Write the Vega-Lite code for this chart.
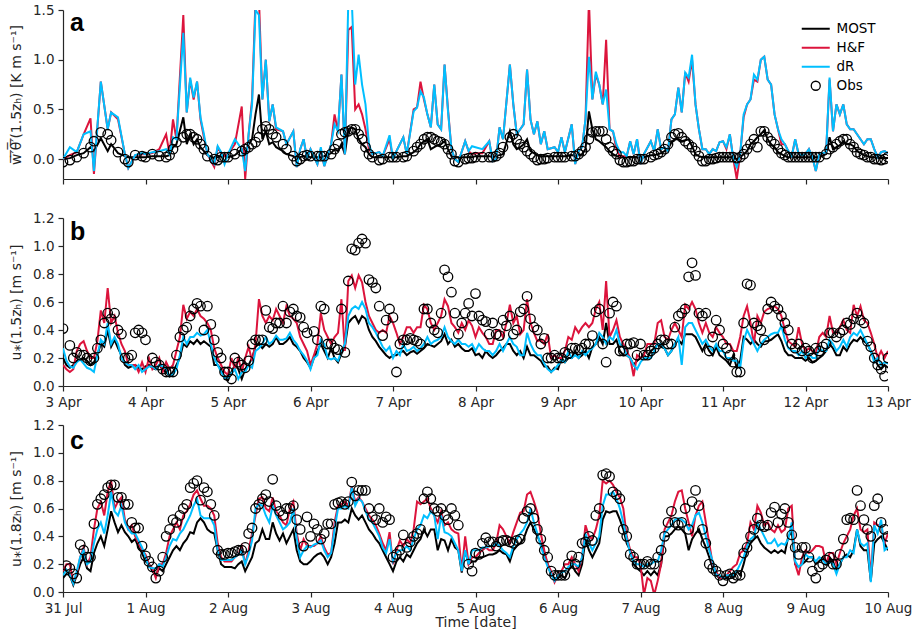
{
"$schema":"https://vega.github.io/schema/vega-lite/v6.json",
"padding":{"left":9,"top":3,"right":5,"bottom":1},
"config":{"font":"DejaVu Sans","view":{"stroke":null},
"axis":{"labelFont":"DejaVu Sans","labelFontSize":13.5,"labelColor":"#262626","titleFont":"DejaVu Sans","titleFontSize":14,"titleFontWeight":"normal","titleColor":"#262626","titlePadding":9,"domainColor":"#262626","domainWidth":1.2,"tickColor":"#262626","tickWidth":1.2,"tickSize":5,"grid":false,"labelPadding":4,"labelFlush":false,"labelOverlap":false}},
"datasets":{
"a":[
{"t":"2019-04-03T00:00","m":0,"h":0,"d":0,"o":-0.03},{"t":"2019-04-03T02:00","m":0.01,"h":0.04,"d":0.12,"o":-0.01},{"t":"2019-04-03T04:00","m":0.04,"h":0.07,"d":0.07,"o":0.02},{"t":"2019-04-03T06:00","m":0.06,"h":0.25,"d":0.25,"o":0.06},{"t":"2019-04-03T08:00","m":0.12,"h":0.41,"d":0.28,"o":0.12},{"t":"2019-04-03T09:00","m":0.08,"h":-0.15,"d":-0.12,"o":0.18},{"t":"2019-04-03T11:00","m":0.21,"h":0.78,"d":0.78,"o":0.27},{"t":"2019-04-03T13:00","m":0.08,"h":0.3,"d":0.3,"o":0.25},{"t":"2019-04-03T14:00","m":0.15,"h":0.47,"d":0.47,"o":0.19},{"t":"2019-04-03T16:00","m":0.06,"h":0.4,"d":0.42,"o":0.07},{"t":"2019-04-03T18:00","m":0.03,"h":0.05,"d":0.05,"o":0},{"t":"2019-04-03T19:00","m":0.02,"h":-0.09,"d":-0.09,"o":-0.03},{"t":"2019-04-03T21:00","m":0.02,"h":0.04,"d":0.04,"o":0.04},{"t":"2019-04-03T23:00","m":0.02,"h":0.05,"d":0.06,"o":0.03},
{"t":"2019-04-04T00:00","m":0.02,"h":0.05,"d":0.05,"o":0.02},{"t":"2019-04-04T02:00","m":0.03,"h":0.06,"d":0.07,"o":0.05},{"t":"2019-04-04T04:00","m":0.03,"h":0.1,"d":0.08,"o":0.03},{"t":"2019-04-04T06:00","m":0.03,"h":0.25,"d":0.1,"o":0.02},{"t":"2019-04-04T07:00","m":0.04,"h":0.05,"d":0.05,"o":0.04},{"t":"2019-04-04T08:00","m":0.12,"h":0.4,"d":0.22,"o":0.1},{"t":"2019-04-04T09:00","m":0.15,"h":0.2,"d":0.2,"o":0.17},{"t":"2019-04-04T11:00","m":0.42,"h":1.45,"d":1.27,"o":0.22},{"t":"2019-04-04T12:00","m":0.15,"h":0.47,"d":0.47,"o":0.25},{"t":"2019-04-04T13:00","m":0.25,"h":0.8,"d":0.82,"o":0.25},{"t":"2019-04-04T14:00","m":0.15,"h":0.6,"d":0.62,"o":0.22},{"t":"2019-04-04T15:00","m":0.2,"h":0.78,"d":0.78,"o":0.2},{"t":"2019-04-04T16:00","m":0.12,"h":0.4,"d":0.42,"o":0.15},{"t":"2019-04-04T17:00","m":0.08,"h":0.22,"d":0.25,"o":0.1},{"t":"2019-04-04T18:00","m":0.04,"h":0.05,"d":0.05,"o":0.03},{"t":"2019-04-04T20:00","m":0.01,"h":-0.08,"d":-0.05,"o":0},{"t":"2019-04-04T21:00","m":0.02,"h":0.12,"d":0.13,"o":-0.01},{"t":"2019-04-04T22:00","m":0.03,"h":0.06,"d":0.07,"o":0.02},{"t":"2019-04-04T23:00","m":0.03,"h":0.03,"d":-0.05,"o":0.02},
{"t":"2019-04-05T00:00","m":0.02,"h":0.05,"d":0.05,"o":0.02},{"t":"2019-04-05T02:00","m":0.04,"h":0.15,"d":0.2,"o":0.05},{"t":"2019-04-05T04:00","m":0.1,"h":0.53,"d":0.1,"o":0.08},{"t":"2019-04-05T05:00","m":0.05,"h":-0.2,"d":-0.12,"o":0.1},{"t":"2019-04-05T06:00","m":0.15,"h":0.25,"d":0.25,"o":0.12},{"t":"2019-04-05T07:00","m":0.2,"h":0.6,"d":0.55,"o":0.15},{"t":"2019-04-05T08:00","m":0.45,"h":1.6,"d":1.5,"o":0.17},{"t":"2019-04-05T09:00","m":0.65,"h":1.62,"d":1.45,"o":0.22},{"t":"2019-04-05T10:00","m":0.2,"h":0.6,"d":0.6,"o":0.3},{"t":"2019-04-05T11:00","m":0.28,"h":1.0,"d":1.0,"o":0.33},{"t":"2019-04-05T12:00","m":0.15,"h":0.38,"d":0.38,"o":0.3},{"t":"2019-04-05T13:00","m":0.17,"h":0.55,"d":0.55,"o":0.25},{"t":"2019-04-05T14:00","m":0.12,"h":0.3,"d":0.32,"o":0.22},{"t":"2019-04-05T16:00","m":0.08,"h":0.28,"d":0.28,"o":0.15},{"t":"2019-04-05T17:00","m":0.05,"h":0.15,"d":0.15,"o":0.1},{"t":"2019-04-05T19:00","m":0.03,"h":0.28,"d":0.28,"o":0.03},{"t":"2019-04-05T20:00","m":0,"h":-0.08,"d":-0.08,"o":-0.02},{"t":"2019-04-05T21:00","m":0.02,"h":0.1,"d":0.1,"o":0},{"t":"2019-04-05T22:00","m":0.03,"h":0.2,"d":0.2,"o":0.03},{"t":"2019-04-05T23:00","m":0.03,"h":0,"d":0,"o":0.04},
{"t":"2019-04-06T00:00","m":0.02,"h":0.1,"d":0.1,"o":0.03},{"t":"2019-04-06T02:00","m":0.02,"h":-0.05,"d":-0.05,"o":0.03},{"t":"2019-04-06T03:00","m":0.02,"h":0.1,"d":0.12,"o":0.03},{"t":"2019-04-06T04:00","m":0.03,"h":-0.07,"d":-0.07,"o":0.03},{"t":"2019-04-06T06:00","m":0.06,"h":0.15,"d":0.15,"o":0.05},{"t":"2019-04-06T07:00","m":0.1,"h":0.45,"d":0.35,"o":0.1},{"t":"2019-04-06T08:00","m":0.08,"h":0.28,"d":0.28,"o":0.15},{"t":"2019-04-06T09:00","m":0.15,"h":0.85,"d":0.85,"o":0.25},{"t":"2019-04-06T10:00","m":0.05,"h":0.05,"d":0.05,"o":0.27},{"t":"2019-04-06T11:00","m":0.3,"h":1.3,"d":1.6,"o":0.28},{"t":"2019-04-06T12:00","m":0.32,"h":1.33,"d":1.6,"o":0.3},{"t":"2019-04-06T13:00","m":0.3,"h":0.5,"d":0.75,"o":0.3},{"t":"2019-04-06T14:00","m":0.2,"h":0.55,"d":1.05,"o":0.25},{"t":"2019-04-06T15:00","m":0.15,"h":0.45,"d":0.75,"o":0.2},{"t":"2019-04-06T16:00","m":0.12,"h":0.3,"d":0.55,"o":0.12},{"t":"2019-04-06T17:00","m":0.05,"h":0.1,"d":0.15,"o":0.05},{"t":"2019-04-06T18:00","m":0.02,"h":0.05,"d":0.05,"o":0.02},{"t":"2019-04-06T20:00","m":0.02,"h":0.07,"d":0.07,"o":-0.01},{"t":"2019-04-06T21:00","m":0.02,"h":0.03,"d":0.03,"o":0},{"t":"2019-04-06T23:00","m":0.02,"h":0.2,"d":0.24,"o":0.02},
{"t":"2019-04-07T00:00","m":0.02,"h":0,"d":0,"o":0.02},{"t":"2019-04-07T01:00","m":0.02,"h":0.08,"d":0.08,"o":0.02},{"t":"2019-04-07T03:00","m":0.03,"h":0.22,"d":0.22,"o":0.02},{"t":"2019-04-07T04:00","m":0.03,"h":0.05,"d":0.05,"o":0.03},{"t":"2019-04-07T06:00","m":0.07,"h":0.5,"d":0.48,"o":0.08},{"t":"2019-04-07T07:00","m":0.1,"h":0.52,"d":0.52,"o":0.12},{"t":"2019-04-07T08:00","m":0.15,"h":0.78,"d":0.68,"o":0.15},{"t":"2019-04-07T09:00","m":0.18,"h":0.6,"d":0.62,"o":0.2},{"t":"2019-04-07T10:00","m":0.2,"h":0.45,"d":0.45,"o":0.22},{"t":"2019-04-07T11:00","m":0.1,"h":0.32,"d":0.32,"o":0.22},{"t":"2019-04-07T12:00","m":0.12,"h":0.75,"d":0.75,"o":0.2},{"t":"2019-04-07T13:00","m":0.14,"h":0.35,"d":0.35,"o":0.18},{"t":"2019-04-07T14:00","m":0.15,"h":0.3,"d":0.3,"o":0.17},{"t":"2019-04-07T15:00","m":0.18,"h":0.95,"d":0.95,"o":0.15},{"t":"2019-04-07T16:00","m":0.1,"h":0.5,"d":0.48,"o":0.1},{"t":"2019-04-07T17:00","m":0.03,"h":0.1,"d":0.1,"o":0.05},{"t":"2019-04-07T18:00","m":0.02,"h":0,"d":0,"o":-0.02},{"t":"2019-04-07T19:00","m":0.02,"h":-0.03,"d":-0.03,"o":-0.03},{"t":"2019-04-07T21:00","m":0.02,"h":0.18,"d":0.18,"o":0},{"t":"2019-04-07T22:00","m":0.02,"h":0.08,"d":0.08,"o":0.01},{"t":"2019-04-07T23:00","m":0.02,"h":0.05,"d":0.13,"o":0.01},
{"t":"2019-04-08T00:00","m":0.03,"h":0.06,"d":0.12,"o":0.02},{"t":"2019-04-08T02:00","m":0.03,"h":0.06,"d":0.1,"o":0.02},{"t":"2019-04-08T04:00","m":0.03,"h":0.18,"d":0.18,"o":0.02},{"t":"2019-04-08T05:00","m":0.02,"h":-0.02,"d":-0.02,"o":0.02},{"t":"2019-04-08T06:00","m":0.03,"h":0,"d":0,"o":0.03},{"t":"2019-04-08T07:00","m":0.04,"h":0.32,"d":0.32,"o":0.06},{"t":"2019-04-08T08:00","m":0.05,"h":0.2,"d":0.2,"o":0.12},{"t":"2019-04-08T10:00","m":0.28,"h":0.95,"d":0.95,"o":0.22},{"t":"2019-04-08T11:00","m":0.15,"h":0.55,"d":0.55,"o":0.25},{"t":"2019-04-08T12:00","m":0.1,"h":0.25,"d":0.25,"o":0.2},{"t":"2019-04-08T13:00","m":0.12,"h":0.3,"d":0.3,"o":0.15},{"t":"2019-04-08T14:00","m":0.15,"h":0.35,"d":0.35,"o":0.12},{"t":"2019-04-08T15:00","m":0.2,"h":0.9,"d":0.9,"o":0.08},{"t":"2019-04-08T16:00","m":0.08,"h":0.4,"d":0.4,"o":0.05},{"t":"2019-04-08T17:00","m":0.06,"h":0.25,"d":0.25,"o":0.02},{"t":"2019-04-08T18:00","m":0.04,"h":0.38,"d":0.38,"o":-0.01},{"t":"2019-04-08T19:00","m":0.03,"h":0.15,"d":0.15,"o":0},{"t":"2019-04-08T20:00","m":0.03,"h":0.28,"d":0.28,"o":0},{"t":"2019-04-08T21:00","m":0.03,"h":0.1,"d":0.1,"o":0.01},{"t":"2019-04-08T23:00","m":0.03,"h":0.12,"d":0.12,"o":0.02},
{"t":"2019-04-09T00:00","m":0.03,"h":0.07,"d":0.07,"o":0.02},{"t":"2019-04-09T01:00","m":0.03,"h":0.22,"d":0.22,"o":0.02},{"t":"2019-04-09T02:00","m":0.03,"h":0.07,"d":0.07,"o":0.02},{"t":"2019-04-09T04:00","m":0.04,"h":0.35,"d":0.35,"o":0.03},{"t":"2019-04-09T05:00","m":0.03,"h":-0.05,"d":-0.05,"o":0.03},{"t":"2019-04-09T06:00","m":0.04,"h":0.08,"d":0.08,"o":0.05},{"t":"2019-04-09T07:00","m":0.05,"h":0.12,"d":0.12,"o":0.08},{"t":"2019-04-09T08:00","m":0.1,"h":0.4,"d":0.4,"o":0.12},{"t":"2019-04-09T09:00","m":0.48,"h":1.6,"d":1.03,"o":0.2},{"t":"2019-04-09T10:00","m":0.3,"h":0.6,"d":0.6,"o":0.27},{"t":"2019-04-09T11:00","m":0.2,"h":0.85,"d":0.88,"o":0.28},{"t":"2019-04-09T12:00","m":0.18,"h":0.75,"d":0.75,"o":0.28},{"t":"2019-04-09T13:00","m":0.15,"h":0.55,"d":0.55,"o":0.28},{"t":"2019-04-09T14:00","m":0.12,"h":1.2,"d":0.7,"o":0.2},{"t":"2019-04-09T15:00","m":0.08,"h":0.3,"d":0.3,"o":0.12},{"t":"2019-04-09T16:00","m":0.05,"h":0.28,"d":0.28,"o":0.08},{"t":"2019-04-09T17:00","m":0.03,"h":0.1,"d":0.15,"o":0.05},{"t":"2019-04-09T18:00","m":0.02,"h":0.03,"d":0.07,"o":-0.01},{"t":"2019-04-09T19:00","m":0.02,"h":0.03,"d":0.07,"o":-0.03},{"t":"2019-04-09T20:00","m":0.02,"h":0.03,"d":0.03,"o":-0.03},{"t":"2019-04-09T21:00","m":0.02,"h":0.18,"d":0.18,"o":-0.02},{"t":"2019-04-09T22:00","m":0.02,"h":0.05,"d":0.05,"o":-0.02},{"t":"2019-04-09T23:00","m":0.02,"h":0.2,"d":0.2,"o":0},
{"t":"2019-04-10T00:00","m":0.02,"h":-0.05,"d":-0.05,"o":0},{"t":"2019-04-10T01:00","m":0.02,"h":0.05,"d":0.05,"o":0},{"t":"2019-04-10T03:00","m":0.04,"h":0.18,"d":0.18,"o":0.02},{"t":"2019-04-10T04:00","m":0.04,"h":0.08,"d":0.08,"o":0.04},{"t":"2019-04-10T05:00","m":0.05,"h":0.3,"d":0.3,"o":0.05},{"t":"2019-04-10T06:00","m":0.06,"h":0.1,"d":0.1,"o":0.07},{"t":"2019-04-10T07:00","m":0.08,"h":0.12,"d":0.12,"o":0.1},{"t":"2019-04-10T08:00","m":0.1,"h":0.08,"d":0.08,"o":0.15},{"t":"2019-04-10T09:00","m":0.17,"h":0.4,"d":0.4,"o":0.22},{"t":"2019-04-10T10:00","m":0.2,"h":0.45,"d":0.45,"o":0.25},{"t":"2019-04-10T11:00","m":0.2,"h":0.72,"d":0.72,"o":0.26},{"t":"2019-04-10T12:00","m":0.18,"h":0.47,"d":0.47,"o":0.22},{"t":"2019-04-10T13:00","m":0.19,"h":0.87,"d":0.87,"o":0.18},{"t":"2019-04-10T14:00","m":0.2,"h":0.78,"d":0.82,"o":0.15},{"t":"2019-04-10T15:00","m":0.13,"h":1.0,"d":1.05,"o":0.12},{"t":"2019-04-10T16:00","m":0.05,"h":0.55,"d":0.55,"o":0.08},{"t":"2019-04-10T17:00","m":0.03,"h":0.3,"d":0.3,"o":0.03},{"t":"2019-04-10T18:00","m":0.02,"h":0.1,"d":0.1,"o":-0.02},{"t":"2019-04-10T19:00","m":0.02,"h":0.1,"d":0.1,"o":-0.02},{"t":"2019-04-10T20:00","m":0.02,"h":0.05,"d":0.05,"o":0},{"t":"2019-04-10T21:00","m":0.02,"h":0.1,"d":0.1,"o":0},{"t":"2019-04-10T22:00","m":0.02,"h":0.08,"d":0.08,"o":0.01},{"t":"2019-04-10T23:00","m":0.02,"h":0.17,"d":0.17,"o":0.02},
{"t":"2019-04-11T00:00","m":0.02,"h":0.18,"d":0.18,"o":0.02},{"t":"2019-04-11T01:00","m":0.02,"h":0.1,"d":0.12,"o":0.02},{"t":"2019-04-11T02:00","m":0.02,"h":0.25,"d":0.25,"o":0.02},{"t":"2019-04-11T03:00","m":0.02,"h":0,"d":0,"o":0.02},{"t":"2019-04-11T04:00","m":0,"h":-0.2,"d":-0.08,"o":0.01},{"t":"2019-04-11T05:00","m":0.02,"h":0.05,"d":0.05,"o":0.02},{"t":"2019-04-11T06:00","m":0.05,"h":0.42,"d":0.45,"o":0.05},{"t":"2019-04-11T07:00","m":0.08,"h":0.55,"d":0.55,"o":0.1},{"t":"2019-04-11T08:00","m":0.15,"h":0.6,"d":0.6,"o":0.15},{"t":"2019-04-11T09:00","m":0.18,"h":0.8,"d":0.85,"o":0.2},{"t":"2019-04-11T10:00","m":0.22,"h":0.78,"d":0.8,"o":0.12},{"t":"2019-04-11T11:00","m":0.25,"h":1.0,"d":1.0,"o":0.28},{"t":"2019-04-11T12:00","m":0.29,"h":1.03,"d":1.03,"o":0.28},{"t":"2019-04-11T13:00","m":0.2,"h":0.8,"d":0.8,"o":0.22},{"t":"2019-04-11T14:00","m":0.15,"h":0.75,"d":0.75,"o":0.18},{"t":"2019-04-11T15:00","m":0.12,"h":0.45,"d":0.45,"o":0.15},{"t":"2019-04-11T16:00","m":0.07,"h":0.3,"d":0.3,"o":0.1},{"t":"2019-04-11T17:00","m":0.05,"h":0.15,"d":0.2,"o":0.06},{"t":"2019-04-11T18:00","m":0.03,"h":0.15,"d":0.15,"o":0.04},{"t":"2019-04-11T19:00","m":0.02,"h":0.08,"d":0.08,"o":0.02},{"t":"2019-04-11T20:00","m":0.02,"h":0.03,"d":0.03,"o":0.02},{"t":"2019-04-11T21:00","m":0.02,"h":0.2,"d":0.2,"o":0.02},{"t":"2019-04-11T22:00","m":0.02,"h":0.05,"d":0.05,"o":0.02},{"t":"2019-04-11T23:00","m":0.02,"h":0.04,"d":0.04,"o":0.02},
{"t":"2019-04-12T00:00","m":0.02,"h":0.05,"d":0.05,"o":0.02},{"t":"2019-04-12T01:00","m":0.02,"h":0.1,"d":0.1,"o":0.02},{"t":"2019-04-12T02:00","m":0.02,"h":0.02,"d":0.02,"o":0.02},{"t":"2019-04-12T03:00","m":0.02,"h":-0.12,"d":-0.12,"o":0.02},{"t":"2019-04-12T04:00","m":0.02,"h":0.05,"d":0.05,"o":0.02},{"t":"2019-04-12T06:00","m":0.05,"h":0.07,"d":0.07,"o":0.05},{"t":"2019-04-12T07:00","m":0.22,"h":0.8,"d":0.82,"o":0.1},{"t":"2019-04-12T08:00","m":0.1,"h":0.28,"d":0.28,"o":0.12},{"t":"2019-04-12T09:00","m":0.12,"h":0.55,"d":0.55,"o":0.15},{"t":"2019-04-12T10:00","m":0.14,"h":0.45,"d":0.45,"o":0.18},{"t":"2019-04-12T11:00","m":0.18,"h":0.55,"d":0.55,"o":0.2},{"t":"2019-04-12T12:00","m":0.15,"h":0.35,"d":0.35,"o":0.2},{"t":"2019-04-12T13:00","m":0.15,"h":0.3,"d":0.3,"o":0.15},{"t":"2019-04-12T14:00","m":0.13,"h":0.3,"d":0.3,"o":0.12},{"t":"2019-04-12T15:00","m":0.08,"h":0.25,"d":0.25,"o":0.07},{"t":"2019-04-12T16:00","m":0.06,"h":0.2,"d":0.2,"o":0.05},{"t":"2019-04-12T17:00","m":0.04,"h":0.15,"d":0.15,"o":0.04},{"t":"2019-04-12T18:00","m":0.03,"h":0.2,"d":0.2,"o":0.02},{"t":"2019-04-12T19:00","m":0.02,"h":0.2,"d":0.2,"o":0.02},{"t":"2019-04-12T20:00","m":0.02,"h":0.1,"d":0.1,"o":0},{"t":"2019-04-12T21:00","m":0.01,"h":0.02,"d":0.02,"o":0},{"t":"2019-04-12T22:00","m":0.01,"h":0.07,"d":0.07,"o":-0.01},{"t":"2019-04-12T23:00","m":0.01,"h":0.08,"d":0.08,"o":0},{"t":"2019-04-13T00:00","m":0.01,"h":0.06,"d":0.06,"o":0.02}
],
"b":[
{"t":"2019-04-03T00:00","m":0.2,"h":0.15,"d":0.27,"o":0.41},{"t":"2019-04-03T01:00","m":0.15,"h":0.12,"d":0.18},{"t":"2019-04-03T02:00","m":0.13,"h":0.1,"d":0.14,"o":0.29},{"t":"2019-04-03T03:00","m":0.15,"h":0.12,"d":0.13,"o":0.2},{"t":"2019-04-03T04:00","m":0.18,"h":0.25,"d":0.17,"o":0.24},{"t":"2019-04-03T05:00","m":0.19,"h":0.3,"d":0.19,"o":0.22},{"t":"2019-04-03T06:00","m":0.2,"h":0.32,"d":0.16,"o":0.22},{"t":"2019-04-03T07:00","m":0.18,"h":0.25,"d":0.13,"o":0.2},{"t":"2019-04-03T08:00","m":0.15,"h":0.2,"d":0.12,"o":0.18},{"t":"2019-04-03T09:00","m":0.17,"h":0.2,"d":0.1,"o":0.2},{"t":"2019-04-03T10:00","m":0.22,"h":0.32,"d":0.22,"o":0.27},{"t":"2019-04-03T11:00","m":0.3,"h":0.54,"d":0.33,"o":0.33},{"t":"2019-04-03T12:00","m":0.28,"h":0.45,"d":0.3,"o":0.45},{"t":"2019-04-03T13:00","m":0.4,"h":0.7,"d":0.45,"o":0.52},{"t":"2019-04-03T14:00","m":0.28,"h":0.45,"d":0.3,"o":0.48},{"t":"2019-04-03T15:00","m":0.33,"h":0.5,"d":0.35,"o":0.52},{"t":"2019-04-03T16:00","m":0.27,"h":0.38,"d":0.3,"o":0.4},{"t":"2019-04-03T17:00","m":0.22,"h":0.3,"d":0.2,"o":0.37},{"t":"2019-04-03T18:00","m":0.15,"h":0.25,"d":0.17,"o":0.2},{"t":"2019-04-03T19:00","m":0.13,"h":0.15,"d":0.15,"o":0.2},{"t":"2019-04-03T20:00","m":0.14,"h":0.15,"d":0.15,"o":0.22},{"t":"2019-04-03T21:00","m":0.15,"h":0.15,"d":0.12,"o":0.38},{"t":"2019-04-03T22:00","m":0.13,"h":0.1,"d":0.15,"o":0.4},{"t":"2019-04-03T23:00","m":0.12,"h":0.17,"d":0.1,"o":0.38},
{"t":"2019-04-04T00:00","m":0.14,"h":0.1,"d":0.12,"o":0.33},{"t":"2019-04-04T01:00","m":0.15,"h":0.2,"d":0.14},{"t":"2019-04-04T02:00","m":0.13,"h":0.12,"d":0.14,"o":0.2},{"t":"2019-04-04T03:00","m":0.12,"h":0.15,"d":0.12,"o":0.17},{"t":"2019-04-04T04:00","m":0.15,"h":0.2,"d":0.15,"o":0.15},{"t":"2019-04-04T05:00","m":0.12,"h":0.1,"d":0.14,"o":0.12},{"t":"2019-04-04T06:00","m":0.1,"h":0.17,"d":0.12,"o":0.1},{"t":"2019-04-04T07:00","m":0.07,"h":0.12,"d":0.07,"o":0.1},{"t":"2019-04-04T08:00","m":0.1,"h":0.15,"d":0.08,"o":0.1},{"t":"2019-04-04T09:00","m":0.15,"h":0.25,"d":0.12,"o":0.22},{"t":"2019-04-04T10:00","m":0.2,"h":0.35,"d":0.22,"o":0.35},{"t":"2019-04-04T11:00","m":0.3,"h":0.58,"d":0.35,"o":0.4},{"t":"2019-04-04T12:00","m":0.28,"h":0.48,"d":0.3,"o":0.42},{"t":"2019-04-04T13:00","m":0.32,"h":0.53,"d":0.35,"o":0.5},{"t":"2019-04-04T14:00","m":0.3,"h":0.5,"d":0.35,"o":0.55},{"t":"2019-04-04T15:00","m":0.33,"h":0.55,"d":0.38,"o":0.59},{"t":"2019-04-04T16:00","m":0.3,"h":0.5,"d":0.36,"o":0.57},{"t":"2019-04-04T17:00","m":0.32,"h":0.48,"d":0.37,"o":0.4},{"t":"2019-04-04T18:00","m":0.3,"h":0.45,"d":0.4,"o":0.57},{"t":"2019-04-04T19:00","m":0.28,"h":0.4,"d":0.3,"o":0.44},{"t":"2019-04-04T20:00","m":0.15,"h":0.27,"d":0.2,"o":0.33},{"t":"2019-04-04T21:00","m":0.15,"h":0.2,"d":0.15,"o":0.24},{"t":"2019-04-04T22:00","m":0.12,"h":0.15,"d":0.1,"o":0.2},{"t":"2019-04-04T23:00","m":0.05,"h":0.1,"d":0.06,"o":0.1},
{"t":"2019-04-05T00:00","m":0.04,"h":0.08,"d":0.06,"o":0.1},{"t":"2019-04-05T01:00","m":0.1,"h":0.2,"d":0.09,"o":0.05},{"t":"2019-04-05T02:00","m":0.15,"h":0.12,"d":0.12,"o":0.2},{"t":"2019-04-05T03:00","m":0.12,"h":0.2,"d":0.05,"o":0.17},{"t":"2019-04-05T04:00","m":0.05,"h":0.1,"d":0.1,"o":0.15},{"t":"2019-04-05T05:00","m":0.12,"h":0.2,"d":0.1,"o":0.13},{"t":"2019-04-05T06:00","m":0.15,"h":0.28,"d":0.15,"o":0.18},{"t":"2019-04-05T07:00","m":0.2,"h":0.18,"d":0.13,"o":0.3},{"t":"2019-04-05T08:00","m":0.28,"h":0.3,"d":0.25,"o":0.33},{"t":"2019-04-05T09:00","m":0.3,"h":0.62,"d":0.27,"o":0.33},{"t":"2019-04-05T10:00","m":0.27,"h":0.5,"d":0.3,"o":0.33},{"t":"2019-04-05T11:00","m":0.3,"h":0.45,"d":0.35,"o":0.54},{"t":"2019-04-05T12:00","m":0.28,"h":0.5,"d":0.3,"o":0.42},{"t":"2019-04-05T13:00","m":0.3,"h":0.47,"d":0.32,"o":0.41},{"t":"2019-04-05T14:00","m":0.35,"h":0.55,"d":0.36,"o":0.45},{"t":"2019-04-05T15:00","m":0.3,"h":0.5,"d":0.33,"o":0.45},{"t":"2019-04-05T16:00","m":0.3,"h":0.45,"d":0.33,"o":0.57},{"t":"2019-04-05T17:00","m":0.32,"h":0.57,"d":0.34,"o":0.45},{"t":"2019-04-05T18:00","m":0.35,"h":0.5,"d":0.38,"o":0.53},{"t":"2019-04-05T19:00","m":0.3,"h":0.48,"d":0.33,"o":0.55},{"t":"2019-04-05T20:00","m":0.28,"h":0.45,"d":0.3,"o":0.5},{"t":"2019-04-05T21:00","m":0.25,"h":0.35,"d":0.25,"o":0.49},{"t":"2019-04-05T22:00","m":0.2,"h":0.3,"d":0.22,"o":0.42},{"t":"2019-04-05T23:00","m":0.17,"h":0.25,"d":0.18,"o":0.38},
{"t":"2019-04-06T00:00","m":0.13,"h":0.15,"d":0.12},{"t":"2019-04-06T01:00","m":0.2,"h":0.22,"d":0.2,"o":0.39},{"t":"2019-04-06T02:00","m":0.25,"h":0.3,"d":0.22,"o":0.33},{"t":"2019-04-06T03:00","m":0.3,"h":0.52,"d":0.33,"o":0.57},{"t":"2019-04-06T04:00","m":0.25,"h":0.4,"d":0.3,"o":0.55},{"t":"2019-04-06T05:00","m":0.2,"h":0.35,"d":0.2,"o":0.3},{"t":"2019-04-06T06:00","m":0.27,"h":0.3,"d":0.19,"o":0.3},{"t":"2019-04-06T07:00","m":0.2,"h":0.35,"d":0.2,"o":0.27},{"t":"2019-04-06T08:00","m":0.17,"h":0.38,"d":0.18,"o":0.26},{"t":"2019-04-06T09:00","m":0.23,"h":0.62,"d":0.25,"o":0.55},{"t":"2019-04-06T10:00","m":0.28,"h":0.25,"d":0.3,"o":0.24},{"t":"2019-04-06T11:00","m":0.45,"h":0.75,"d":0.5,"o":0.75},{"t":"2019-04-06T12:00","m":0.48,"h":0.79,"d":0.55,"o":0.98},{"t":"2019-04-06T13:00","m":0.5,"h":0.7,"d":0.57,"o":0.97},{"t":"2019-04-06T14:00","m":0.45,"h":0.79,"d":0.55,"o":1.02},{"t":"2019-04-06T15:00","m":0.5,"h":0.74,"d":0.6,"o":1.05},{"t":"2019-04-06T16:00","m":0.48,"h":0.6,"d":0.55,"o":1.02},{"t":"2019-04-06T17:00","m":0.4,"h":0.5,"d":0.45,"o":0.76},{"t":"2019-04-06T18:00","m":0.35,"h":0.45,"d":0.42,"o":0.74},{"t":"2019-04-06T19:00","m":0.32,"h":0.4,"d":0.38,"o":0.7},{"t":"2019-04-06T20:00","m":0.28,"h":0.38,"d":0.33,"o":0.57},{"t":"2019-04-06T21:00","m":0.25,"h":0.4,"d":0.28,"o":0.36},{"t":"2019-04-06T22:00","m":0.22,"h":0.38,"d":0.25,"o":0.47},{"t":"2019-04-06T23:00","m":0.2,"h":0.5,"d":0.28,"o":0.55},
{"t":"2019-04-07T00:00","m":0.22,"h":0.45,"d":0.2,"o":0.49},{"t":"2019-04-07T01:00","m":0.22,"h":0.38,"d":0.25,"o":0.1},{"t":"2019-04-07T02:00","m":0.24,"h":0.3,"d":0.22,"o":0.3},{"t":"2019-04-07T03:00","m":0.25,"h":0.35,"d":0.3,"o":0.33},{"t":"2019-04-07T04:00","m":0.22,"h":0.42,"d":0.25,"o":0.33},{"t":"2019-04-07T05:00","m":0.24,"h":0.42,"d":0.26,"o":0.34},{"t":"2019-04-07T06:00","m":0.25,"h":0.38,"d":0.28,"o":0.33},{"t":"2019-04-07T07:00","m":0.23,"h":0.42,"d":0.25,"o":0.32},{"t":"2019-04-07T08:00","m":0.25,"h":0.42,"d":0.27,"o":0.3},{"t":"2019-04-07T09:00","m":0.27,"h":0.58,"d":0.3,"o":0.55},{"t":"2019-04-07T10:00","m":0.3,"h":0.55,"d":0.35,"o":0.55},{"t":"2019-04-07T11:00","m":0.29,"h":0.45,"d":0.3,"o":0.45},{"t":"2019-04-07T12:00","m":0.28,"h":0.4,"d":0.32,"o":0.4},{"t":"2019-04-07T13:00","m":0.3,"h":0.45,"d":0.33,"o":0.38},{"t":"2019-04-07T14:00","m":0.32,"h":0.5,"d":0.35,"o":0.52},{"t":"2019-04-07T15:00","m":0.37,"h":0.62,"d":0.42,"o":0.83},{"t":"2019-04-07T16:00","m":0.3,"h":0.57,"d":0.35,"o":0.78},{"t":"2019-04-07T17:00","m":0.33,"h":0.45,"d":0.32,"o":0.67},{"t":"2019-04-07T18:00","m":0.28,"h":0.42,"d":0.3,"o":0.52},{"t":"2019-04-07T19:00","m":0.3,"h":0.38,"d":0.33,"o":0.37},{"t":"2019-04-07T20:00","m":0.27,"h":0.45,"d":0.3,"o":0.45},{"t":"2019-04-07T21:00","m":0.25,"h":0.4,"d":0.3,"o":0.52},{"t":"2019-04-07T22:00","m":0.25,"h":0.47,"d":0.28,"o":0.59},{"t":"2019-04-07T23:00","m":0.27,"h":0.43,"d":0.3,"o":0.5},
{"t":"2019-04-08T00:00","m":0.22,"h":0.35,"d":0.25,"o":0.66},{"t":"2019-04-08T01:00","m":0.23,"h":0.42,"d":0.3,"o":0.5},{"t":"2019-04-08T02:00","m":0.2,"h":0.38,"d":0.27,"o":0.47},{"t":"2019-04-08T03:00","m":0.25,"h":0.35,"d":0.25,"o":0.46},{"t":"2019-04-08T04:00","m":0.22,"h":0.3,"d":0.25,"o":0.37},{"t":"2019-04-08T05:00","m":0.2,"h":0.3,"d":0.22,"o":0.45},{"t":"2019-04-08T06:00","m":0.22,"h":0.4,"d":0.25,"o":0.37},{"t":"2019-04-08T07:00","m":0.25,"h":0.4,"d":0.3,"o":0.36},{"t":"2019-04-08T08:00","m":0.27,"h":0.35,"d":0.25,"o":0.47},{"t":"2019-04-08T09:00","m":0.3,"h":0.45,"d":0.3,"o":0.43},{"t":"2019-04-08T10:00","m":0.3,"h":0.58,"d":0.35,"o":0.5},{"t":"2019-04-08T11:00","m":0.25,"h":0.45,"d":0.3,"o":0.37},{"t":"2019-04-08T12:00","m":0.22,"h":0.5,"d":0.28,"o":0.4},{"t":"2019-04-08T13:00","m":0.25,"h":0.37,"d":0.22,"o":0.53},{"t":"2019-04-08T14:00","m":0.2,"h":0.4,"d":0.22,"o":0.55},{"t":"2019-04-08T15:00","m":0.28,"h":0.62,"d":0.38,"o":0.64},{"t":"2019-04-08T16:00","m":0.22,"h":0.45,"d":0.3,"o":0.48},{"t":"2019-04-08T17:00","m":0.22,"h":0.38,"d":0.25,"o":0.42},{"t":"2019-04-08T18:00","m":0.2,"h":0.32,"d":0.22,"o":0.4},{"t":"2019-04-08T19:00","m":0.18,"h":0.33,"d":0.22,"o":0.3},{"t":"2019-04-08T20:00","m":0.14,"h":0.3,"d":0.16,"o":0.34},{"t":"2019-04-08T21:00","m":0.14,"h":0.37,"d":0.12,"o":0.2},{"t":"2019-04-08T22:00","m":0.1,"h":0.2,"d":0.1,"o":0.2},{"t":"2019-04-08T23:00","m":0.13,"h":0.22,"d":0.12,"o":0.22},
{"t":"2019-04-09T00:00","m":0.12,"h":0.2,"d":0.15,"o":0.2},{"t":"2019-04-09T01:00","m":0.2,"h":0.2,"d":0.18,"o":0.2},{"t":"2019-04-09T02:00","m":0.17,"h":0.25,"d":0.17,"o":0.24},{"t":"2019-04-09T03:00","m":0.2,"h":0.35,"d":0.25,"o":0.23},{"t":"2019-04-09T04:00","m":0.2,"h":0.33,"d":0.2,"o":0.27},{"t":"2019-04-09T05:00","m":0.25,"h":0.42,"d":0.22,"o":0.27},{"t":"2019-04-09T06:00","m":0.2,"h":0.38,"d":0.2,"o":0.26},{"t":"2019-04-09T07:00","m":0.22,"h":0.42,"d":0.25,"o":0.27},{"t":"2019-04-09T08:00","m":0.25,"h":0.45,"d":0.22,"o":0.3},{"t":"2019-04-09T09:00","m":0.2,"h":0.42,"d":0.25,"o":0.3},{"t":"2019-04-09T10:00","m":0.28,"h":0.45,"d":0.27,"o":0.36},{"t":"2019-04-09T11:00","m":0.3,"h":0.55,"d":0.3,"o":0.53},{"t":"2019-04-09T12:00","m":0.35,"h":0.6,"d":0.38,"o":0.55},{"t":"2019-04-09T13:00","m":0.3,"h":0.4,"d":0.35,"o":0.3},{"t":"2019-04-09T14:00","m":0.45,"h":0.75,"d":0.3,"o":0.17},{"t":"2019-04-09T15:00","m":0.3,"h":0.35,"d":0.35,"o":0.52},{"t":"2019-04-09T16:00","m":0.3,"h":0.4,"d":0.33,"o":0.6},{"t":"2019-04-09T17:00","m":0.33,"h":0.47,"d":0.4,"o":0.57},{"t":"2019-04-09T18:00","m":0.25,"h":0.35,"d":0.3,"o":0.25},{"t":"2019-04-09T19:00","m":0.22,"h":0.3,"d":0.28,"o":0.25},{"t":"2019-04-09T20:00","m":0.22,"h":0.25,"d":0.22,"o":0.3},{"t":"2019-04-09T21:00","m":0.2,"h":0.2,"d":0.2,"o":0.3},{"t":"2019-04-09T22:00","m":0.15,"h":0.07,"d":0.15,"o":0.31},{"t":"2019-04-09T23:00","m":0.18,"h":0.22,"d":0.12,"o":0.22},
{"t":"2019-04-10T00:00","m":0.2,"h":0.2,"d":0.17,"o":0.3},{"t":"2019-04-10T01:00","m":0.22,"h":0.22,"d":0.2,"o":0.22},{"t":"2019-04-10T02:00","m":0.2,"h":0.3,"d":0.2,"o":0.22},{"t":"2019-04-10T03:00","m":0.25,"h":0.3,"d":0.2,"o":0.25},{"t":"2019-04-10T04:00","m":0.27,"h":0.3,"d":0.25,"o":0.27},{"t":"2019-04-10T05:00","m":0.3,"h":0.45,"d":0.3,"o":0.3},{"t":"2019-04-10T06:00","m":0.28,"h":0.47,"d":0.3,"o":0.33},{"t":"2019-04-10T07:00","m":0.27,"h":0.35,"d":0.27,"o":0.33},{"t":"2019-04-10T08:00","m":0.22,"h":0.33,"d":0.22,"o":0.3},{"t":"2019-04-10T09:00","m":0.25,"h":0.4,"d":0.25,"o":0.3},{"t":"2019-04-10T10:00","m":0.3,"h":0.45,"d":0.3,"o":0.42},{"t":"2019-04-10T11:00","m":0.33,"h":0.4,"d":0.35,"o":0.5},{"t":"2019-04-10T12:00","m":0.3,"h":0.35,"d":0.15,"o":0.52},{"t":"2019-04-10T13:00","m":0.37,"h":0.58,"d":0.42,"o":0.55},{"t":"2019-04-10T14:00","m":0.37,"h":0.55,"d":0.45,"o":0.78},{"t":"2019-04-10T15:00","m":0.37,"h":0.6,"d":0.45,"o":0.88},{"t":"2019-04-10T16:00","m":0.35,"h":0.55,"d":0.4,"o":0.79},{"t":"2019-04-10T17:00","m":0.3,"h":0.45,"d":0.35,"o":0.52},{"t":"2019-04-10T18:00","m":0.25,"h":0.38,"d":0.3,"o":0.5},{"t":"2019-04-10T19:00","m":0.3,"h":0.45,"d":0.33,"o":0.52},{"t":"2019-04-10T20:00","m":0.25,"h":0.38,"d":0.28,"o":0.25},{"t":"2019-04-10T21:00","m":0.22,"h":0.35,"d":0.25,"o":0.35},{"t":"2019-04-10T22:00","m":0.28,"h":0.42,"d":0.3,"o":0.47},{"t":"2019-04-10T23:00","m":0.22,"h":0.38,"d":0.25,"o":0.4},
{"t":"2019-04-11T00:00","m":0.2,"h":0.35,"d":0.25,"o":0.3},{"t":"2019-04-11T01:00","m":0.18,"h":0.3,"d":0.2,"o":0.27},{"t":"2019-04-11T02:00","m":0.15,"h":0.3,"d":0.2,"o":0.22},{"t":"2019-04-11T03:00","m":0.22,"h":0.25,"d":0.18,"o":0.17},{"t":"2019-04-11T04:00","m":0.13,"h":0.25,"d":0.18,"o":0.1},{"t":"2019-04-11T05:00","m":0.18,"h":0.35,"d":0.13,"o":0.1},{"t":"2019-04-11T06:00","m":0.35,"h":0.5,"d":0.32,"o":0.45},{"t":"2019-04-11T07:00","m":0.33,"h":0.57,"d":0.4,"o":0.73},{"t":"2019-04-11T08:00","m":0.3,"h":0.45,"d":0.35,"o":0.72},{"t":"2019-04-11T09:00","m":0.33,"h":0.3,"d":0.3,"o":0.45},{"t":"2019-04-11T10:00","m":0.3,"h":0.5,"d":0.25,"o":0.43},{"t":"2019-04-11T11:00","m":0.28,"h":0.45,"d":0.3,"o":0.4},{"t":"2019-04-11T12:00","m":0.32,"h":0.53,"d":0.33,"o":0.33},{"t":"2019-04-11T13:00","m":0.32,"h":0.55,"d":0.35,"o":0.55},{"t":"2019-04-11T14:00","m":0.33,"h":0.56,"d":0.37,"o":0.6},{"t":"2019-04-11T15:00","m":0.35,"h":0.57,"d":0.38,"o":0.57},{"t":"2019-04-11T16:00","m":0.37,"h":0.55,"d":0.38,"o":0.55},{"t":"2019-04-11T17:00","m":0.32,"h":0.5,"d":0.43,"o":0.5},{"t":"2019-04-11T18:00","m":0.25,"h":0.4,"d":0.33,"o":0.45},{"t":"2019-04-11T19:00","m":0.22,"h":0.32,"d":0.27,"o":0.4},{"t":"2019-04-11T20:00","m":0.22,"h":0.3,"d":0.25,"o":0.3},{"t":"2019-04-11T21:00","m":0.2,"h":0.28,"d":0.25,"o":0.27},{"t":"2019-04-11T22:00","m":0.2,"h":0.42,"d":0.22,"o":0.3},{"t":"2019-04-11T23:00","m":0.2,"h":0.3,"d":0.25,"o":0.25},
{"t":"2019-04-12T00:00","m":0.18,"h":0.25,"d":0.2,"o":0.27},{"t":"2019-04-12T01:00","m":0.2,"h":0.27,"d":0.23,"o":0.25},{"t":"2019-04-12T02:00","m":0.17,"h":0.25,"d":0.2,"o":0.2},{"t":"2019-04-12T03:00","m":0.18,"h":0.23,"d":0.2,"o":0.27},{"t":"2019-04-12T04:00","m":0.2,"h":0.35,"d":0.27,"o":0.25},{"t":"2019-04-12T05:00","m":0.22,"h":0.38,"d":0.25,"o":0.28},{"t":"2019-04-12T06:00","m":0.25,"h":0.35,"d":0.25,"o":0.3},{"t":"2019-04-12T07:00","m":0.3,"h":0.5,"d":0.33,"o":0.38},{"t":"2019-04-12T08:00","m":0.27,"h":0.38,"d":0.3,"o":0.38},{"t":"2019-04-12T09:00","m":0.22,"h":0.38,"d":0.25,"o":0.35},{"t":"2019-04-12T10:00","m":0.22,"h":0.42,"d":0.28,"o":0.38},{"t":"2019-04-12T11:00","m":0.28,"h":0.47,"d":0.33,"o":0.4},{"t":"2019-04-12T12:00","m":0.25,"h":0.4,"d":0.28,"o":0.45},{"t":"2019-04-12T13:00","m":0.3,"h":0.38,"d":0.35,"o":0.44},{"t":"2019-04-12T14:00","m":0.33,"h":0.58,"d":0.38,"o":0.48},{"t":"2019-04-12T15:00","m":0.32,"h":0.5,"d":0.36,"o":0.52},{"t":"2019-04-12T16:00","m":0.35,"h":0.57,"d":0.4,"o":0.47},{"t":"2019-04-12T17:00","m":0.32,"h":0.47,"d":0.35,"o":0.45},{"t":"2019-04-12T18:00","m":0.3,"h":0.45,"d":0.3,"o":0.32},{"t":"2019-04-12T19:00","m":0.25,"h":0.38,"d":0.25,"o":0.28},{"t":"2019-04-12T20:00","m":0.2,"h":0.3,"d":0.17,"o":0.2},{"t":"2019-04-12T21:00","m":0.15,"h":0.2,"d":0.2,"o":0.15},{"t":"2019-04-12T22:00","m":0.12,"h":0.25,"d":0.15,"o":0.12},{"t":"2019-04-12T23:00","m":0.15,"h":0.2,"d":0.17,"o":0.07},{"t":"2019-04-13T00:00","m":0.13,"h":0.25,"d":0.16,"o":0.2}
],
"c":[
{"t":"2019-07-31T00:00","m":0.1,"h":0.15,"d":0.12},{"t":"2019-07-31T01:00","m":0.13,"h":0.2,"d":0.16,"o":0.19},{"t":"2019-07-31T02:00","m":0.12,"h":0.2,"d":0.12,"o":0.17},{"t":"2019-07-31T03:00","m":0.05,"h":0.07,"d":0.06,"o":0.13},{"t":"2019-07-31T04:00","m":0.12,"h":0.13,"d":0.15,"o":0.1},{"t":"2019-07-31T05:00","m":0.2,"h":0.25,"d":0.25,"o":0.34},{"t":"2019-07-31T06:00","m":0.25,"h":0.32,"d":0.3,"o":0.3},{"t":"2019-07-31T07:00","m":0.17,"h":0.2,"d":0.2,"o":0.25},{"t":"2019-07-31T08:00","m":0.15,"h":0.25,"d":0.22,"o":0.25},{"t":"2019-07-31T09:00","m":0.28,"h":0.45,"d":0.35,"o":0.49},{"t":"2019-07-31T10:00","m":0.35,"h":0.6,"d":0.45,"o":0.63},{"t":"2019-07-31T11:00","m":0.4,"h":0.65,"d":0.5,"o":0.67},{"t":"2019-07-31T12:00","m":0.33,"h":0.55,"d":0.42,"o":0.7},{"t":"2019-07-31T13:00","m":0.45,"h":0.72,"d":0.55,"o":0.75},{"t":"2019-07-31T14:00","m":0.58,"h":0.8,"d":0.72,"o":0.77},{"t":"2019-07-31T15:00","m":0.5,"h":0.6,"d":0.58,"o":0.77},{"t":"2019-07-31T16:00","m":0.43,"h":0.65,"d":0.55,"o":0.68},{"t":"2019-07-31T17:00","m":0.48,"h":0.68,"d":0.62,"o":0.68},{"t":"2019-07-31T18:00","m":0.43,"h":0.52,"d":0.5,"o":0.63},{"t":"2019-07-31T19:00","m":0.4,"h":0.45,"d":0.45,"o":0.63},{"t":"2019-07-31T20:00","m":0.36,"h":0.48,"d":0.42,"o":0.5},{"t":"2019-07-31T21:00","m":0.38,"h":0.4,"d":0.42,"o":0.46},{"t":"2019-07-31T22:00","m":0.32,"h":0.35,"d":0.37,"o":0.46},{"t":"2019-07-31T23:00","m":0.28,"h":0.3,"d":0.32,"o":0.33},
{"t":"2019-08-01T00:00","m":0.22,"h":0.27,"d":0.25,"o":0.26},{"t":"2019-08-01T01:00","m":0.2,"h":0.2,"d":0.18,"o":0.22},{"t":"2019-08-01T02:00","m":0.15,"h":0.17,"d":0.17,"o":0.18},{"t":"2019-08-01T03:00","m":0.12,"h":0.1,"d":0.17,"o":0.1},{"t":"2019-08-01T04:00","m":0.17,"h":0.2,"d":0.2,"o":0.15},{"t":"2019-08-01T05:00","m":0.15,"h":0.2,"d":0.18,"o":0.25},{"t":"2019-08-01T06:00","m":0.2,"h":0.28,"d":0.25,"o":0.4},{"t":"2019-08-01T07:00","m":0.25,"h":0.4,"d":0.33,"o":0.45},{"t":"2019-08-01T08:00","m":0.3,"h":0.45,"d":0.38,"o":0.52},{"t":"2019-08-01T09:00","m":0.33,"h":0.5,"d":0.37,"o":0.5},{"t":"2019-08-01T10:00","m":0.3,"h":0.45,"d":0.42,"o":0.55},{"t":"2019-08-01T11:00","m":0.35,"h":0.55,"d":0.45,"o":0.6},{"t":"2019-08-01T12:00","m":0.38,"h":0.58,"d":0.5,"o":0.63},{"t":"2019-08-01T13:00","m":0.43,"h":0.63,"d":0.55,"o":0.75},{"t":"2019-08-01T14:00","m":0.42,"h":0.7,"d":0.62,"o":0.78},{"t":"2019-08-01T15:00","m":0.5,"h":0.73,"d":0.67,"o":0.8},{"t":"2019-08-01T16:00","m":0.53,"h":0.67,"d":0.55,"o":0.66},{"t":"2019-08-01T17:00","m":0.5,"h":0.62,"d":0.53,"o":0.75},{"t":"2019-08-01T18:00","m":0.45,"h":0.62,"d":0.53,"o":0.72},{"t":"2019-08-01T19:00","m":0.43,"h":0.6,"d":0.53,"o":0.63},{"t":"2019-08-01T20:00","m":0.42,"h":0.55,"d":0.48,"o":0.55},{"t":"2019-08-01T21:00","m":0.3,"h":0.35,"d":0.3,"o":0.3},{"t":"2019-08-01T22:00","m":0.2,"h":0.25,"d":0.23,"o":0.27},{"t":"2019-08-01T23:00","m":0.18,"h":0.22,"d":0.23,"o":0.27},
{"t":"2019-08-02T00:00","m":0.18,"h":0.22,"d":0.23,"o":0.28},{"t":"2019-08-02T01:00","m":0.18,"h":0.22,"d":0.23,"o":0.28},{"t":"2019-08-02T02:00","m":0.17,"h":0.25,"d":0.25,"o":0.29},{"t":"2019-08-02T03:00","m":0.2,"h":0.27,"d":0.27,"o":0.3},{"t":"2019-08-02T04:00","m":0.22,"h":0.33,"d":0.3,"o":0.3},{"t":"2019-08-02T05:00","m":0.15,"h":0.2,"d":0.2,"o":0.32},{"t":"2019-08-02T06:00","m":0.2,"h":0.3,"d":0.27,"o":0.42},{"t":"2019-08-02T07:00","m":0.25,"h":0.42,"d":0.37,"o":0.46},{"t":"2019-08-02T08:00","m":0.35,"h":0.55,"d":0.6,"o":0.6},{"t":"2019-08-02T09:00","m":0.37,"h":0.67,"d":0.63,"o":0.63},{"t":"2019-08-02T10:00","m":0.45,"h":0.68,"d":0.62,"o":0.67},{"t":"2019-08-02T11:00","m":0.38,"h":0.6,"d":0.55,"o":0.7},{"t":"2019-08-02T12:00","m":0.38,"h":0.58,"d":0.5,"o":0.65},{"t":"2019-08-02T13:00","m":0.5,"h":0.68,"d":0.62,"o":0.81},{"t":"2019-08-02T14:00","m":0.42,"h":0.58,"d":0.55,"o":0.62},{"t":"2019-08-02T15:00","m":0.37,"h":0.55,"d":0.5,"o":0.58},{"t":"2019-08-02T16:00","m":0.42,"h":0.5,"d":0.45,"o":0.55},{"t":"2019-08-02T17:00","m":0.35,"h":0.48,"d":0.47,"o":0.6},{"t":"2019-08-02T18:00","m":0.4,"h":0.6,"d":0.5,"o":0.6},{"t":"2019-08-02T19:00","m":0.45,"h":0.65,"d":0.6,"o":0.62},{"t":"2019-08-02T20:00","m":0.3,"h":0.42,"d":0.38,"o":0.52},{"t":"2019-08-02T21:00","m":0.22,"h":0.3,"d":0.25,"o":0.45},{"t":"2019-08-02T22:00","m":0.2,"h":0.38,"d":0.3,"o":0.33},{"t":"2019-08-02T23:00","m":0.2,"h":0.33,"d":0.33,"o":0.54},
{"t":"2019-08-03T00:00","m":0.22,"h":0.33,"d":0.32,"o":0.4},{"t":"2019-08-03T01:00","m":0.25,"h":0.33,"d":0.34,"o":0.49},{"t":"2019-08-03T02:00","m":0.27,"h":0.35,"d":0.35,"o":0.45},{"t":"2019-08-03T03:00","m":0.28,"h":0.4,"d":0.37,"o":0.38},{"t":"2019-08-03T04:00","m":0.25,"h":0.32,"d":0.3,"o":0.42},{"t":"2019-08-03T05:00","m":0.2,"h":0.27,"d":0.25,"o":0.49},{"t":"2019-08-03T06:00","m":0.25,"h":0.28,"d":0.28,"o":0.49},{"t":"2019-08-03T07:00","m":0.35,"h":0.5,"d":0.45,"o":0.63},{"t":"2019-08-03T08:00","m":0.5,"h":0.62,"d":0.6,"o":0.64},{"t":"2019-08-03T09:00","m":0.5,"h":0.63,"d":0.6,"o":0.65},{"t":"2019-08-03T10:00","m":0.52,"h":0.65,"d":0.62,"o":0.63},{"t":"2019-08-03T11:00","m":0.5,"h":0.62,"d":0.6,"o":0.65},{"t":"2019-08-03T12:00","m":0.6,"h":0.76,"d":0.75,"o":0.79},{"t":"2019-08-03T13:00","m":0.55,"h":0.65,"d":0.62,"o":0.69},{"t":"2019-08-03T14:00","m":0.52,"h":0.68,"d":0.67,"o":0.73},{"t":"2019-08-03T15:00","m":0.55,"h":0.65,"d":0.65,"o":0.73},{"t":"2019-08-03T16:00","m":0.5,"h":0.6,"d":0.58,"o":0.73},{"t":"2019-08-03T17:00","m":0.45,"h":0.55,"d":0.52,"o":0.6},{"t":"2019-08-03T18:00","m":0.42,"h":0.52,"d":0.5,"o":0.54},{"t":"2019-08-03T19:00","m":0.38,"h":0.48,"d":0.45,"o":0.52},{"t":"2019-08-03T20:00","m":0.35,"h":0.42,"d":0.4,"o":0.6},{"t":"2019-08-03T21:00","m":0.3,"h":0.35,"d":0.32,"o":0.5},{"t":"2019-08-03T22:00","m":0.25,"h":0.3,"d":0.28,"o":0.54},{"t":"2019-08-03T23:00","m":0.2,"h":0.43,"d":0.38,"o":0.52},
{"t":"2019-08-04T00:00","m":0.15,"h":0.2,"d":0.22,"o":0.25},{"t":"2019-08-04T01:00","m":0.22,"h":0.3,"d":0.28,"o":0.27},{"t":"2019-08-04T02:00","m":0.25,"h":0.37,"d":0.3,"o":0.3},{"t":"2019-08-04T03:00","m":0.22,"h":0.33,"d":0.3,"o":0.41},{"t":"2019-08-04T04:00","m":0.27,"h":0.38,"d":0.33,"o":0.32},{"t":"2019-08-04T05:00","m":0.25,"h":0.35,"d":0.3,"o":0.36},{"t":"2019-08-04T06:00","m":0.3,"h":0.45,"d":0.38,"o":0.4},{"t":"2019-08-04T07:00","m":0.35,"h":0.65,"d":0.45,"o":0.42},{"t":"2019-08-04T08:00","m":0.38,"h":0.63,"d":0.48,"o":0.45},{"t":"2019-08-04T09:00","m":0.45,"h":0.65,"d":0.55,"o":0.67},{"t":"2019-08-04T10:00","m":0.4,"h":0.67,"d":0.53,"o":0.72},{"t":"2019-08-04T11:00","m":0.45,"h":0.6,"d":0.58,"o":0.67},{"t":"2019-08-04T12:00","m":0.45,"h":0.55,"d":0.55,"o":0.6},{"t":"2019-08-04T13:00","m":0.3,"h":0.5,"d":0.38,"o":0.58},{"t":"2019-08-04T14:00","m":0.38,"h":0.58,"d":0.55,"o":0.6},{"t":"2019-08-04T15:00","m":0.37,"h":0.48,"d":0.43,"o":0.55},{"t":"2019-08-04T16:00","m":0.3,"h":0.5,"d":0.42,"o":0.52},{"t":"2019-08-04T17:00","m":0.38,"h":0.45,"d":0.4,"o":0.6},{"t":"2019-08-04T18:00","m":0.32,"h":0.43,"d":0.35,"o":0.55},{"t":"2019-08-04T19:00","m":0.3,"h":0.42,"d":0.3,"o":0.48},{"t":"2019-08-04T20:00","m":0.14,"h":0.15,"d":0.15},{"t":"2019-08-04T21:00","m":0.3,"h":0.4,"d":0.3},{"t":"2019-08-04T22:00","m":0.2,"h":0.2,"d":0.2,"o":0.2},{"t":"2019-08-04T23:00","m":0.22,"h":0.25,"d":0.3,"o":0.15},
{"t":"2019-08-05T00:00","m":0.22,"h":0.25,"d":0.3,"o":0.28},{"t":"2019-08-05T01:00","m":0.25,"h":0.28,"d":0.3,"o":0.27},{"t":"2019-08-05T02:00","m":0.25,"h":0.3,"d":0.32,"o":0.35},{"t":"2019-08-05T03:00","m":0.26,"h":0.32,"d":0.32,"o":0.39},{"t":"2019-08-05T04:00","m":0.27,"h":0.3,"d":0.33,"o":0.36},{"t":"2019-08-05T05:00","m":0.27,"h":0.3,"d":0.33,"o":0.36},{"t":"2019-08-05T06:00","m":0.28,"h":0.35,"d":0.35,"o":0.33},{"t":"2019-08-05T07:00","m":0.3,"h":0.48,"d":0.33,"o":0.36},{"t":"2019-08-05T08:00","m":0.28,"h":0.45,"d":0.3,"o":0.37},{"t":"2019-08-05T09:00","m":0.27,"h":0.4,"d":0.28,"o":0.37},{"t":"2019-08-05T10:00","m":0.22,"h":0.35,"d":0.25,"o":0.36},{"t":"2019-08-05T11:00","m":0.3,"h":0.43,"d":0.33,"o":0.35},{"t":"2019-08-05T12:00","m":0.33,"h":0.5,"d":0.38,"o":0.37},{"t":"2019-08-05T13:00","m":0.35,"h":0.57,"d":0.42,"o":0.38},{"t":"2019-08-05T14:00","m":0.38,"h":0.58,"d":0.45,"o":0.53},{"t":"2019-08-05T15:00","m":0.45,"h":0.7,"d":0.5,"o":0.58},{"t":"2019-08-05T16:00","m":0.5,"h":0.72,"d":0.6,"o":0.6},{"t":"2019-08-05T17:00","m":0.45,"h":0.65,"d":0.5,"o":0.53},{"t":"2019-08-05T18:00","m":0.4,"h":0.57,"d":0.42,"o":0.45},{"t":"2019-08-05T19:00","m":0.35,"h":0.42,"d":0.33,"o":0.38},{"t":"2019-08-05T20:00","m":0.27,"h":0.3,"d":0.25,"o":0.3},{"t":"2019-08-05T21:00","m":0.2,"h":0.2,"d":0.18,"o":0.25},{"t":"2019-08-05T22:00","m":0.12,"h":0.15,"d":0.13,"o":0.15},{"t":"2019-08-05T23:00","m":0.1,"h":0.07,"d":0.08,"o":0.12},
{"t":"2019-08-06T00:00","m":0.1,"h":0.12,"d":0.12,"o":0.12},{"t":"2019-08-06T01:00","m":0.12,"h":0.15,"d":0.14,"o":0.12},{"t":"2019-08-06T02:00","m":0.1,"h":0.2,"d":0.15,"o":0.12},{"t":"2019-08-06T03:00","m":0.15,"h":0.2,"d":0.18,"o":0.2},{"t":"2019-08-06T04:00","m":0.2,"h":0.25,"d":0.2,"o":0.26},{"t":"2019-08-06T05:00","m":0.15,"h":0.2,"d":0.2,"o":0.2},{"t":"2019-08-06T06:00","m":0.12,"h":0.15,"d":0.18,"o":0.25},{"t":"2019-08-06T07:00","m":0.2,"h":0.25,"d":0.25,"o":0.35},{"t":"2019-08-06T08:00","m":0.38,"h":0.48,"d":0.42,"o":0.36},{"t":"2019-08-06T09:00","m":0.3,"h":0.4,"d":0.35,"o":0.4},{"t":"2019-08-06T10:00","m":0.25,"h":0.38,"d":0.3,"o":0.37},{"t":"2019-08-06T11:00","m":0.3,"h":0.45,"d":0.35,"o":0.55},{"t":"2019-08-06T12:00","m":0.35,"h":0.55,"d":0.4,"o":0.6},{"t":"2019-08-06T13:00","m":0.52,"h":0.8,"d":0.62,"o":0.84},{"t":"2019-08-06T14:00","m":0.58,"h":0.78,"d":0.7,"o":0.85},{"t":"2019-08-06T15:00","m":0.57,"h":0.8,"d":0.7,"o":0.83},{"t":"2019-08-06T16:00","m":0.58,"h":0.77,"d":0.72,"o":0.72},{"t":"2019-08-06T17:00","m":0.58,"h":0.72,"d":0.67,"o":0.7},{"t":"2019-08-06T18:00","m":0.52,"h":0.68,"d":0.6,"o":0.67},{"t":"2019-08-06T19:00","m":0.45,"h":0.6,"d":0.5,"o":0.45},{"t":"2019-08-06T20:00","m":0.35,"h":0.4,"d":0.38,"o":0.4},{"t":"2019-08-06T21:00","m":0.3,"h":0.3,"d":0.28,"o":0.27},{"t":"2019-08-06T22:00","m":0.2,"h":0.25,"d":0.22,"o":0.25},{"t":"2019-08-06T23:00","m":0.17,"h":0.25,"d":0.2,"o":0.2},
{"t":"2019-08-07T00:00","m":0.15,"h":0.2,"d":0.2,"o":0.2},{"t":"2019-08-07T01:00","m":0.12,"h":-0.02,"d":0.18,"o":0.2},{"t":"2019-08-07T02:00","m":0.15,"h":0.1,"d":0.2,"o":0.22},{"t":"2019-08-07T03:00","m":0.12,"h":0.08,"d":0.2,"o":0.2},{"t":"2019-08-07T04:00","m":0.15,"h":-0.02,"d":0.22,"o":0.2},{"t":"2019-08-07T05:00","m":0.12,"h":0.08,"d":0.22,"o":0.25},{"t":"2019-08-07T06:00","m":0.2,"h":0.2,"d":0.3,"o":0.3},{"t":"2019-08-07T07:00","m":0.4,"h":0.45,"d":0.42,"o":0.4},{"t":"2019-08-07T08:00","m":0.4,"h":0.5,"d":0.45,"o":0.5},{"t":"2019-08-07T09:00","m":0.42,"h":0.55,"d":0.48,"o":0.58},{"t":"2019-08-07T10:00","m":0.45,"h":0.65,"d":0.52,"o":0.5},{"t":"2019-08-07T11:00","m":0.47,"h":0.72,"d":0.53,"o":0.48},{"t":"2019-08-07T12:00","m":0.45,"h":0.73,"d":0.52,"o":0.5},{"t":"2019-08-07T13:00","m":0.42,"h":0.6,"d":0.5,"o":0.6},{"t":"2019-08-07T14:00","m":0.3,"h":0.5,"d":0.45,"o":0.45},{"t":"2019-08-07T15:00","m":0.38,"h":0.4,"d":0.48,"o":0.65},{"t":"2019-08-07T16:00","m":0.42,"h":0.55,"d":0.55,"o":0.73},{"t":"2019-08-07T17:00","m":0.45,"h":0.62,"d":0.57,"o":0.62},{"t":"2019-08-07T18:00","m":0.38,"h":0.65,"d":0.5,"o":0.45},{"t":"2019-08-07T19:00","m":0.32,"h":0.5,"d":0.4,"o":0.35},{"t":"2019-08-07T20:00","m":0.25,"h":0.35,"d":0.3,"o":0.2},{"t":"2019-08-07T21:00","m":0.17,"h":0.2,"d":0.22,"o":0.17},{"t":"2019-08-07T22:00","m":0.12,"h":0.15,"d":0.12,"o":0.15},{"t":"2019-08-07T23:00","m":0.1,"h":0.1,"d":0.12,"o":0.12},
{"t":"2019-08-08T00:00","m":0.1,"h":0.1,"d":0.1,"o":0.08},{"t":"2019-08-08T01:00","m":0.1,"h":0.12,"d":0.12,"o":0.12},{"t":"2019-08-08T02:00","m":0.12,"h":0.15,"d":0.12,"o":0.13},{"t":"2019-08-08T03:00","m":0.1,"h":0.18,"d":0.12,"o":0.1},{"t":"2019-08-08T04:00","m":0.15,"h":0.2,"d":0.15,"o":0.12},{"t":"2019-08-08T05:00","m":0.12,"h":0.28,"d":0.2,"o":0.12},{"t":"2019-08-08T06:00","m":0.2,"h":0.3,"d":0.25,"o":0.28},{"t":"2019-08-08T07:00","m":0.3,"h":0.35,"d":0.33,"o":0.32},{"t":"2019-08-08T08:00","m":0.35,"h":0.5,"d":0.38,"o":0.4},{"t":"2019-08-08T09:00","m":0.38,"h":0.45,"d":0.4,"o":0.45},{"t":"2019-08-08T10:00","m":0.4,"h":0.62,"d":0.5,"o":0.53},{"t":"2019-08-08T11:00","m":0.35,"h":0.57,"d":0.45,"o":0.48},{"t":"2019-08-08T12:00","m":0.32,"h":0.48,"d":0.4,"o":0.47},{"t":"2019-08-08T13:00","m":0.3,"h":0.5,"d":0.35,"o":0.48},{"t":"2019-08-08T14:00","m":0.28,"h":0.45,"d":0.35,"o":0.57},{"t":"2019-08-08T15:00","m":0.3,"h":0.43,"d":0.38,"o":0.61},{"t":"2019-08-08T16:00","m":0.28,"h":0.48,"d":0.33,"o":0.5},{"t":"2019-08-08T17:00","m":0.3,"h":0.43,"d":0.35,"o":0.56},{"t":"2019-08-08T18:00","m":0.28,"h":0.45,"d":0.34,"o":0.6},{"t":"2019-08-08T19:00","m":0.4,"h":0.6,"d":0.38,"o":0.5},{"t":"2019-08-08T20:00","m":0.43,"h":0.62,"d":0.5,"o":0.41},{"t":"2019-08-08T21:00","m":0.2,"h":0.2,"d":0.22,"o":0.32},{"t":"2019-08-08T22:00","m":0.18,"h":0.12,"d":0.18,"o":0.27},{"t":"2019-08-08T23:00","m":0.2,"h":0.25,"d":0.2,"o":0.32},
{"t":"2019-08-09T00:00","m":0.22,"h":0.3,"d":0.27,"o":0.32},{"t":"2019-08-09T01:00","m":0.25,"h":0.28,"d":0.25,"o":0.25},{"t":"2019-08-09T02:00","m":0.25,"h":0.3,"d":0.25,"o":0.15},{"t":"2019-08-09T03:00","m":0.2,"h":0.33,"d":0.22,"o":0.1},{"t":"2019-08-09T04:00","m":0.22,"h":0.33,"d":0.25,"o":0.18},{"t":"2019-08-09T05:00","m":0.25,"h":0.32,"d":0.23,"o":0.2},{"t":"2019-08-09T06:00","m":0.2,"h":0.2,"d":0.2,"o":0.23},{"t":"2019-08-09T07:00","m":0.25,"h":0.28,"d":0.22,"o":0.25},{"t":"2019-08-09T08:00","m":0.22,"h":0.28,"d":0.2,"o":0.2},{"t":"2019-08-09T09:00","m":0.15,"h":0.2,"d":0.13,"o":0.2},{"t":"2019-08-09T10:00","m":0.2,"h":0.28,"d":0.2,"o":0.27},{"t":"2019-08-09T11:00","m":0.25,"h":0.35,"d":0.25,"o":0.38},{"t":"2019-08-09T12:00","m":0.27,"h":0.4,"d":0.25,"o":0.52},{"t":"2019-08-09T13:00","m":0.25,"h":0.45,"d":0.3,"o":0.53},{"t":"2019-08-09T14:00","m":0.3,"h":0.55,"d":0.28,"o":0.52},{"t":"2019-08-09T15:00","m":0.45,"h":0.6,"d":0.45,"o":0.73},{"t":"2019-08-09T16:00","m":0.33,"h":0.45,"d":0.35,"o":0.62},{"t":"2019-08-09T17:00","m":0.3,"h":0.43,"d":0.33,"o":0.52},{"t":"2019-08-09T18:00","m":0.3,"h":0.45,"d":0.35,"o":0.45},{"t":"2019-08-09T19:00","m":0.08,"h":0.1,"d":0.07,"o":0.4},{"t":"2019-08-09T20:00","m":0.35,"h":0.5,"d":0.48,"o":0.62},{"t":"2019-08-09T21:00","m":0.38,"h":0.48,"d":0.42,"o":0.67},{"t":"2019-08-09T22:00","m":0.4,"h":0.48,"d":0.52,"o":0.5},{"t":"2019-08-09T23:00","m":0.35,"h":0.35,"d":0.3,"o":0.45},{"t":"2019-08-10T00:00","m":0.3,"h":0.42,"d":0.32,"o":0.4}
]
},
"vconcat":[
{
"width":825,"height":169,
"encoding":{
"x":{"field":"t","type":"temporal","scale":{"domain":[{"year":2019,"month":4,"date":3},{"year":2019,"month":4,"date":13}]},"axis":{"labels":false,"title":null,"tickCount":{"interval":"day","step":1}}},
"y":{"field":"v","type":"quantitative","scale":{"domain":[-0.2,1.5],"nice":false,"zero":false},"axis":{"values":[0,0.5,1,1.5],"format":".1f","title":"w\u0305\u2032\u0305\u03b8\u0305\u2032\u0305(1.5z\u2095) [K m s\u207b\u00b9]"}}
},
"layer":[
{"data":{"values":[{}]},"mark":{"type":"rule","color":"#999999","strokeWidth":1},"encoding":{"x":null,"y":{"datum":0}}},
{"data":{"name":"a"},"transform":[{"fold":["m","h","d"],"as":["s","v"]}],"mark":{"type":"line","strokeWidth":2,"clip":true},
"encoding":{"color":{"field":"s","type":"nominal","scale":{"domain":["m","h","d","o"],"range":["#000000","#DC143C","#00BFFF","#000000"]},
"legend":{"orient":"none","legendX":746,"legendY":12,"title":null,"padding":0,"labelFont":"DejaVu Sans","labelFontSize":13.5,"labelColor":"#000000","labelOffset":14,"rowPadding":4,"symbolType":"stroke","symbolSize":784,"symbolStrokeWidth":2,
"labelExpr":"{'m':'MOST','h':'H&F','d':'dR','o':'Obs'}[datum.label]",
"encode":{"symbols":{"update":{"shape":{"signal":"datum.value === 'o' ? 'circle' : 'stroke'"},"size":{"signal":"datum.value === 'o' ? 81 : 784"},"fill":{"value":"transparent"},"strokeWidth":{"signal":"datum.value === 'o' ? 1.3 : 2"}}}}}}}},
{"data":{"name":"a"},"transform":[{"fold":["o"],"as":["s","v"]},{"filter":"isValid(datum.v)"}],"mark":{"type":"point","shape":"circle","filled":false,"size":90,"strokeWidth":1.3,"opacity":1,"clip":true},
"encoding":{"color":{"field":"s","type":"nominal","scale":{"domain":["m","h","d","o"],"range":["#000000","#DC143C","#00BFFF","#000000"]}}}},
{"data":{"values":[{"lab":"a","t":"2019-04-03T02:00","v":1.29}]},"mark":{"type":"text","fontSize":25,"fontWeight":"bold","font":"Liberation Sans","color":"#000000","align":"left","baseline":"alphabetic"},"encoding":{"text":{"field":"lab","type":"nominal"}}}
]
},
{
"width":825,"height":168,
"encoding":{
"x":{"field":"t","type":"temporal","scale":{"domain":[{"year":2019,"month":4,"date":3},{"year":2019,"month":4,"date":13}]},"axis":{"format":"%-d %b","title":null,"tickCount":{"interval":"day","step":1}}},
"y":{"field":"v","type":"quantitative","scale":{"domain":[0,1.2],"nice":false},"axis":{"values":[0,0.2,0.4,0.6,0.8,1.0,1.2],"format":".1f","title":"u\u204e(1.5z\u2095) [m s\u207b\u00b9]"}}
},
"layer":[
{"data":{"name":"b"},"transform":[{"fold":["m","h","d"],"as":["s","v"]}],"mark":{"type":"line","strokeWidth":2,"clip":true},
"encoding":{"color":{"field":"s","type":"nominal","scale":{"domain":["m","h","d","o"],"range":["#000000","#DC143C","#00BFFF","#000000"]},"legend":null}}},
{"data":{"name":"b"},"transform":[{"fold":["o"],"as":["s","v"]},{"filter":"isValid(datum.v)"}],"mark":{"type":"point","shape":"circle","filled":false,"size":90,"strokeWidth":1.3,"opacity":1,"clip":true},
"encoding":{"color":{"field":"s","type":"nominal","scale":{"domain":["m","h","d","o"],"range":["#000000","#DC143C","#00BFFF","#000000"]},"legend":null}}},
{"data":{"values":[{"lab":"b","t":"2019-04-03T02:00","v":1.04}]},"mark":{"type":"text","fontSize":25,"fontWeight":"bold","font":"Liberation Sans","color":"#000000","align":"left","baseline":"alphabetic"},"encoding":{"text":{"field":"lab","type":"nominal"}}}
]
},
{
"width":825,"height":167,
"encoding":{
"x":{"field":"t","type":"temporal","scale":{"domain":[{"year":2019,"month":7,"date":31},{"year":2019,"month":8,"date":10}]},"axis":{"format":"%-d %b","title":"Time [date]","titlePadding":1,"tickCount":{"interval":"day","step":1}}},
"y":{"field":"v","type":"quantitative","scale":{"domain":[0,1.2],"nice":false},"axis":{"values":[0,0.2,0.4,0.6,0.8,1.0,1.2],"format":".1f","title":"u\u204e(1.8z\u2095) [m s\u207b\u00b9]"}}
},
"layer":[
{"data":{"name":"c"},"transform":[{"fold":["m","h","d"],"as":["s","v"]}],"mark":{"type":"line","strokeWidth":2,"clip":true},
"encoding":{"color":{"field":"s","type":"nominal","scale":{"domain":["m","h","d","o"],"range":["#000000","#DC143C","#00BFFF","#000000"]},"legend":null}}},
{"data":{"name":"c"},"transform":[{"fold":["o"],"as":["s","v"]},{"filter":"isValid(datum.v)"}],"mark":{"type":"point","shape":"circle","filled":false,"size":90,"strokeWidth":1.3,"opacity":1,"clip":true},
"encoding":{"color":{"field":"s","type":"nominal","scale":{"domain":["m","h","d","o"],"range":["#000000","#DC143C","#00BFFF","#000000"]},"legend":null}}},
{"data":{"values":[{"lab":"c","t":"2019-07-31T02:00","v":1.03}]},"mark":{"type":"text","fontSize":25,"fontWeight":"bold","font":"Liberation Sans","color":"#000000","align":"left","baseline":"alphabetic"},"encoding":{"text":{"field":"lab","type":"nominal"}}}
]
}
],
"spacing":39,
"bounds":"flush",
"resolve":{"scale":{"color":"independent"},"legend":{"color":"independent"}}
}
